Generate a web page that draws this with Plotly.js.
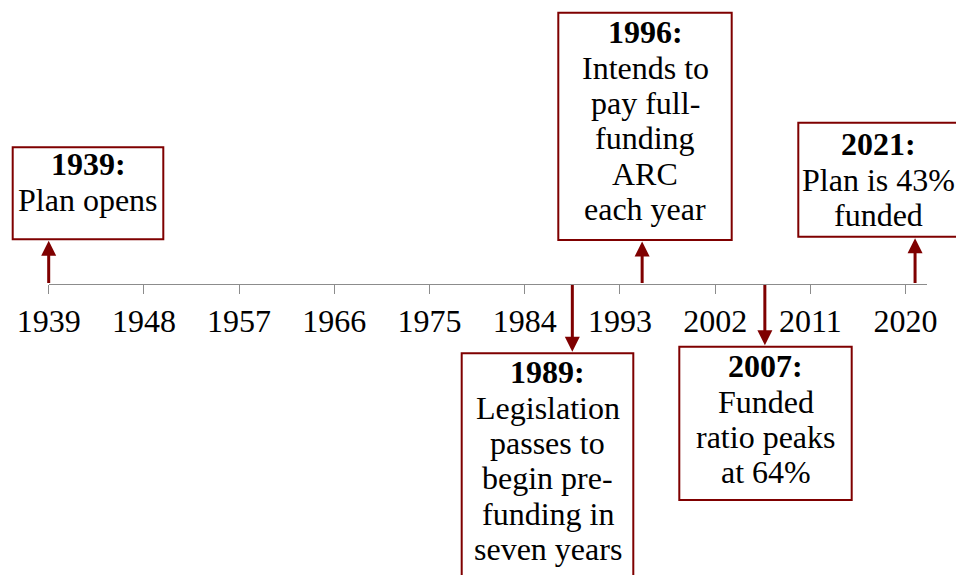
<!DOCTYPE html>
<html><head><meta charset="utf-8">
<script src="https://cdn.plot.ly/plotly-3.0.1.min.js"></script>
<style>html,body{margin:0;padding:0;background:#fff}</style>
</head><body><div id="chart" style="width:956px;height:575px"></div>
<script>
// ---- data ----
const eventYears = ['1939', '1989', '1996', '2007', '2021'];
const eventPos = [1939, 1988.5, 1995.1, 2006.7, 2020.9];   // where each arrow sits on the axis
const eventText = [
  ['Plan opens'],
  ['Legislation', 'passes to', 'begin pre-', 'funding in', 'seven years'],
  ['Intends to', 'pay full-', 'funding', 'ARC', 'each year'],
  ['Funded', 'ratio peaks', 'at 64%'],
  ['Plan is 43%', 'funded']
];
const eventSide = ['up', 'down', 'up', 'down', 'up'];
const tickYears = [1939, 1948, 1957, 1966, 1975, 1984, 1993, 2002, 2011, 2020];

// ---- layout (pixels) ----
const W = 956, H = 575, AXIS_Y = 284;
const boxes = [
  {l: 12.7,  r: 163.3, t: 147.3, b: 239.3, cx: 88,    y0: 164.3},
  {l: 461.7, r: 633.3, t: 353.3, b: 600,   cx: 547.5, y0: 372.3},
  {l: 558.3, r: 731.7, t: 12.7,  b: 240,   cx: 645,   y0: 32.3},
  {l: 679.3, r: 851.7, t: 346.7, b: 500,   cx: 765.5, y0: 366.3},
  {l: 798.3, r: 975,   t: 122.7, b: 236.7, cx: 878,   y0: 144.3}
];
const LINE = 35.3;
const RED = '#7f0000';
const FONT = 'Liberation Serif, Times New Roman, serif';
const px = x => x / W, py = y => 1 - y / H;

const shapes = [], annotations = [];
boxes.forEach((bx, i) => {
  shapes.push({type: 'rect', xref: 'paper', yref: 'paper',
    x0: px(bx.l), x1: px(bx.r), y0: py(bx.b), y1: py(bx.t),
    line: {color: RED, width: 2}, fillcolor: '#ffffff', layer: 'above'});
  const lines = ['<b>' + eventYears[i] + ':</b>'].concat(eventText[i]);
  lines.forEach((t, k) => {
    annotations.push({xref: 'paper', yref: 'paper', x: px(bx.cx), y: py(bx.y0 + k * LINE),
      text: t, showarrow: false, xanchor: 'center', yanchor: 'middle',
      font: {family: FONT, size: 32, color: '#000'}});
  });
  // arrow from axis to box
  const tipY = eventSide[i] === 'up' ? bx.b + 1.5 : bx.t - 1.5;
  annotations.push({xref: 'x', yref: 'paper', x: eventPos[i], y: py(tipY),
    axref: 'pixel', ayref: 'pixel', ax: 0, ay: AXIS_Y - tipY,
    text: ' ', font: {size: 1}, borderpad: 0, showarrow: true,
    arrowhead: 2, arrowsize: 1, arrowwidth: 3, arrowcolor: RED, standoff: 0, startstandoff: 0});
});

const trace = {x: eventPos, y: eventPos.map(() => 0.5), type: 'scatter', mode: 'markers',
  marker: {opacity: 0}, hoverinfo: 'skip', showlegend: false};

const layout = {
  width: W, height: H,
  margin: {l: 0, r: 0, t: 0, b: 0},
  paper_bgcolor: '#fff', plot_bgcolor: '#fff',
  xaxis: {domain: [48.7 / W, 926.7 / W], range: [1939, 2022], anchor: 'free', position: 1 - AXIS_Y / H,
    showline: true, linecolor: '#8c8c8c', linewidth: 1, ticks: 'outside', ticklen: 9, tickwidth: 1,
    tickcolor: '#8c8c8c', tickmode: 'array', tickvals: tickYears, ticktext: tickYears.map(String),
    showgrid: false, zeroline: false, fixedrange: true,
    tickfont: {family: FONT, size: 32, color: '#000'}},
  yaxis: {visible: false, range: [0, 1], domain: [0, 1], fixedrange: true},
  shapes: shapes, annotations: annotations, showlegend: false
};
Plotly.newPlot('chart', [trace], layout, {displayModeBar: false, staticPlot: true});
</script></body></html>
